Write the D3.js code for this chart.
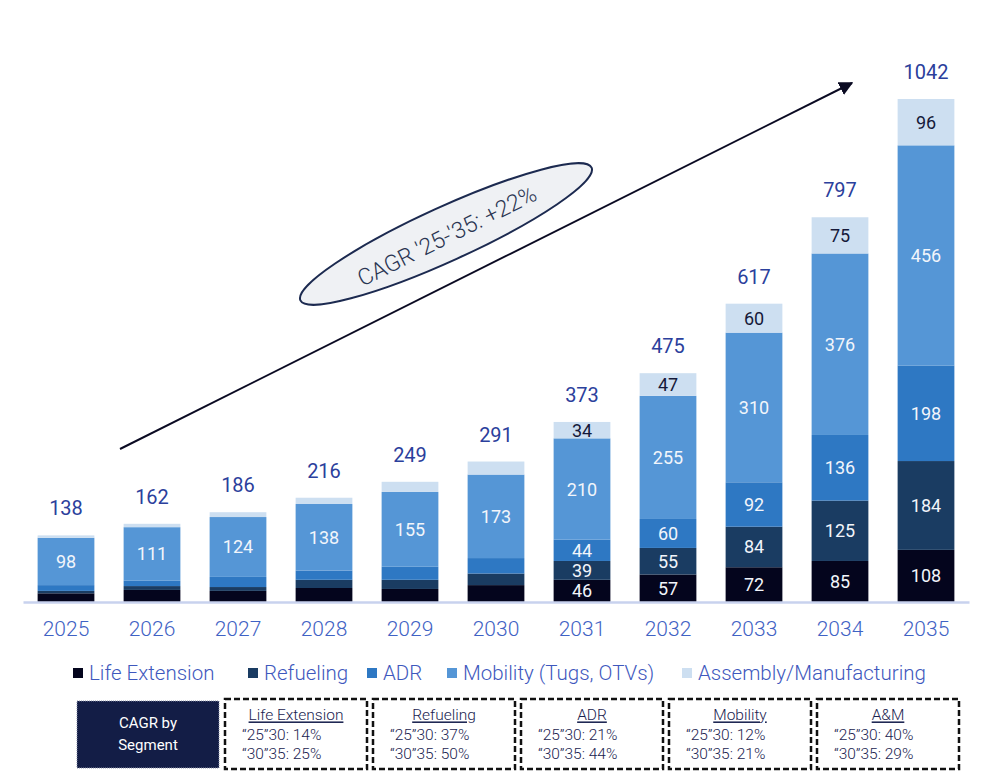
<!DOCTYPE html>
<html>
<head>
<meta charset="utf-8">
<script src="https://cdn.jsdelivr.net/npm/d3@7"></script>
<style>
  html, body { margin: 0; padding: 0; background: #fff; }
  svg { display: block; font-family: Roboto, "Noto Sans", sans-serif; }
</style>
</head>
<body>
<svg id="chart"></svg>
<script>
const years = ["2025", "2026", "2027", "2028", "2029", "2030", "2031", "2032", "2033", "2034", "2035"];
const seriesNames = ["Life Extension", "Refueling", "ADR", "Mobility (Tugs, OTVs)", "Assembly/Manufacturing"];
const lifeExtension = [18, 25, 23, 29, 27, 35, 46, 57, 72, 85, 108];
const refueling = [5, 8, 8, 17, 19, 24, 39, 55, 84, 125, 184];
const adr = [12, 11, 21, 19, 27, 32, 44, 60, 92, 136, 198];
const mobility = [98, 111, 124, 138, 155, 173, 210, 255, 310, 376, 456];
const assembly = [5, 7, 10, 13, 21, 27, 34, 47, 60, 75, 96];
const totals = [138, 162, 186, 216, 249, 291, 373, 475, 617, 797, 1042];
const cagrTitle = "CAGR '25-'35: +22%";
const cagrBoxes = [
  { name: "Life Extension", a: "\u201C25\u201D30: 14%", b: "\u201C30\u201D35: 25%" },
  { name: "Refueling", a: "\u201C25\u201D30: 37%", b: "\u201C30\u201D35: 50%" },
  { name: "ADR", a: "\u201C25\u201D30: 21%", b: "\u201C30\u201D35: 44%" },
  { name: "Mobility", a: "\u201C25\u201D30: 12%", b: "\u201C30\u201D35: 21%" },
  { name: "A&M", a: "\u201C25\u201D30: 40%", b: "\u201C30\u201D35: 29%" }
];

const width = 992;
const height = 776;
const colors = ["#04051d", "#1a3c62", "#2e78c3", "#5596d6", "#cddff1"];
const seriesData = [lifeExtension, refueling, adr, mobility, assembly];

const svg = d3.select("#chart").attr("width", width).attr("height", height);

const table = years.map((yr, i) => {
  const row = { year: yr };
  seriesNames.forEach((s, k) => (row[s] = seriesData[k][i]));
  return row;
});
const stacked = d3.stack().keys(seriesNames)(table);

const x = d3.scaleBand().domain(years).range([23, 969]).paddingInner(0.34).paddingOuter(0.17);
const y = d3.scaleLinear().domain([0, 1042]).range([602, 99]);

// bars
const layers = svg.append("g")
  .selectAll("g")
  .data(stacked)
  .join("g")
  .attr("fill", (d, i) => colors[i]);

layers.selectAll("rect")
  .data(d => d)
  .join("rect")
  .attr("x", d => x(d.data.year))
  .attr("width", x.bandwidth())
  .attr("y", d => y(d[1]))
  .attr("height", d => y(d[0]) - y(d[1]));

// segment labels
stacked.forEach((layer, k) => {
  svg.append("g")
    .selectAll("text")
    .data(layer.filter(d => +d.data.year >= 2031 || k === 3))
    .join("text")
    .attr("x", d => x(d.data.year) + x.bandwidth() / 2)
    .attr("y", d => (y(d[0]) + y(d[1])) / 2)
    .attr("dy", "0.36em")
    .attr("text-anchor", "middle")
    .attr("font-size", 18)
    .attr("fill", k === 4 ? "#15193a" : "#f2f5fb")
    .text(d => d[1] - d[0]);
});

// totals
svg.append("g")
  .selectAll("text")
  .data(years)
  .join("text")
  .attr("x", d => x(d) + x.bandwidth() / 2)
  .attr("y", (d, i) => y(d3.sum(seriesData, s => s[i])) - 20)
  .attr("text-anchor", "middle")
  .attr("font-size", 20)
  .attr("fill", "#2b409c")
  .text((d, i) => totals[i]);

// x axis
const xAxis = svg.append("g")
  .attr("transform", "translate(0,602)")
  .call(d3.axisBottom(x).tickSize(0).tickPadding(19));
xAxis.select(".domain").attr("stroke", "#c8d2ee").attr("stroke-width", 2.5);
xAxis.selectAll("text")
  .attr("font-family", "Roboto, sans-serif")
  .attr("font-size", 21)
  .attr("font-weight", 300)
  .attr("fill", "#3f62c4");

// trend arrow
svg.append("defs").append("marker")
  .attr("id", "head")
  .attr("viewBox", "0 0 10 10")
  .attr("refX", 9).attr("refY", 5)
  .attr("markerWidth", 7).attr("markerHeight", 7)
  .attr("markerUnits", "strokeWidth")
  .attr("orient", "auto")
  .append("path").attr("d", "M0,0L10,5L0,10Z").attr("fill", "#0a0a22");

svg.append("line")
  .attr("x1", 120).attr("y1", 449)
  .attr("x2", 852).attr("y2", 83)
  .attr("stroke", "#0a0a22")
  .attr("stroke-width", 2)
  .attr("marker-end", "url(#head)");

// CAGR ellipse
const bubble = svg.append("g").attr("transform", "translate(446,234) rotate(-24.5)");
bubble.append("ellipse")
  .attr("rx", 160).attr("ry", 27)
  .attr("fill", "#eff1f4")
  .attr("stroke", "#1c2a50")
  .attr("stroke-width", 2);
bubble.append("text")
  .attr("y", 2)
  .attr("dy", "0.35em")
  .attr("text-anchor", "middle")
  .attr("font-size", 23)
  .attr("font-weight", 300)
  .attr("fill", "#2a3552")
  .attr("transform", "rotate(-2)")
  .text(cagrTitle);

// legend
const legendX = [73, 248, 367, 447, 682];
const legend = svg.append("g")
  .selectAll("g")
  .data(seriesNames)
  .join("g")
  .attr("transform", (d, i) => `translate(${legendX[i]},673)`);
legend.append("rect")
  .attr("y", -5).attr("width", 10).attr("height", 10)
  .attr("fill", (d, i) => colors[i]);
legend.append("text")
  .attr("x", 16)
  .attr("dy", "0.35em")
  .attr("font-size", 20.5)
  .attr("font-weight", 300)
  .attr("fill", "#3e58bd")
  .text(d => d);

// CAGR by segment
const head = svg.append("g");
head.append("rect")
  .attr("x", 77).attr("y", 701)
  .attr("width", 142).attr("height", 67)
  .attr("fill", "#131d46")
  .attr("stroke", "#8a90a8")
  .attr("stroke-width", 1)
  .attr("stroke-dasharray", "1,1");
head.append("text")
  .attr("x", 148).attr("y", 723)
  .attr("dy", "0.35em")
  .attr("text-anchor", "middle")
  .attr("font-size", 15)
  .attr("fill", "#fff")
  .text("CAGR by");
head.append("text")
  .attr("x", 148).attr("y", 745)
  .attr("dy", "0.35em")
  .attr("text-anchor", "middle")
  .attr("font-size", 15)
  .attr("fill", "#fff")
  .text("Segment");

const boxX = [225, 373, 521, 669, 817];
const boxes = svg.append("g")
  .selectAll("g")
  .data(cagrBoxes)
  .join("g")
  .attr("transform", (d, i) => `translate(${boxX[i]},699)`);
boxes.append("rect")
  .attr("width", 142).attr("height", 70)
  .attr("fill", "#fff")
  .attr("stroke", "#111")
  .attr("stroke-width", 2.5)
  .attr("stroke-dasharray", "6,3");
boxes.append("text")
  .attr("x", 71).attr("y", 16)
  .attr("dy", "0.35em")
  .attr("text-anchor", "middle")
  .attr("font-size", 15.5)
  .attr("font-weight", 300)
  .attr("fill", "#1a2350")
  .attr("text-decoration", "underline")
  .text(d => d.name);
boxes.append("text")
  .attr("x", 17).attr("y", 36)
  .attr("dy", "0.35em")
  .attr("font-size", 15.5)
  .attr("font-weight", 300)
  .attr("fill", "#1a2350")
  .text(d => d.a);
boxes.append("text")
  .attr("x", 17).attr("y", 55)
  .attr("dy", "0.35em")
  .attr("font-size", 15.5)
  .attr("font-weight", 300)
  .attr("fill", "#1a2350")
  .text(d => d.b);
</script>
</body>
</html>
